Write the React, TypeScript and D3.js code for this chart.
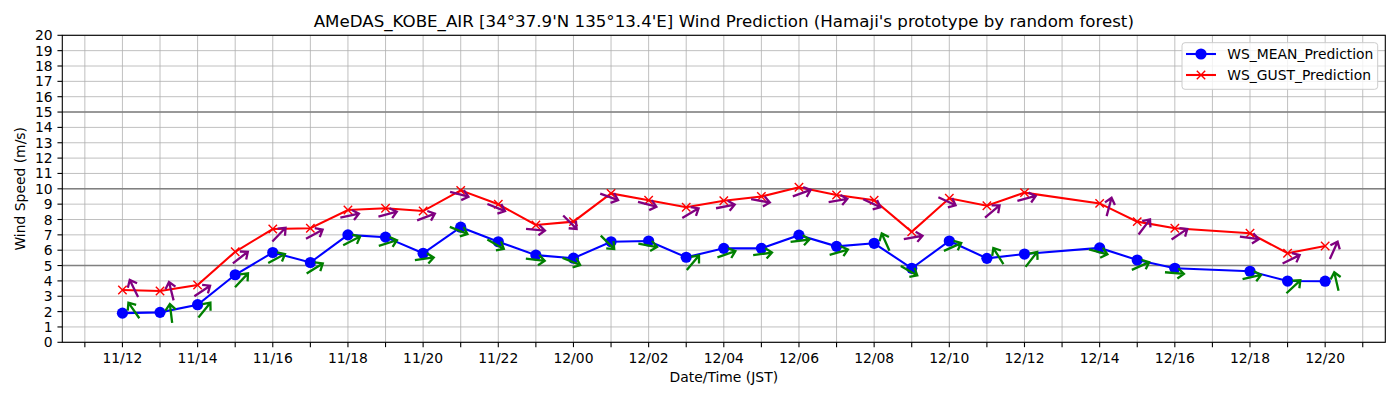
import React from "react";
import * as d3 from "d3";

const times = ["11/12","11/13","11/14","11/15","11/16","11/17","11/18","11/19","11/20","11/21","11/22","11/23","12/00","12/01","12/02","12/03","12/04","12/05","12/06","12/07","12/08","12/09","12/10","12/11","12/12","12/14","12/15","12/16","12/18","12/19","12/20"];
const meanValues = [1.9,1.95,2.45,4.4,5.85,5.2,7.0,6.85,5.8,7.5,6.55,5.68,5.48,6.55,6.6,5.54,6.12,6.12,6.98,6.25,6.45,4.82,6.6,5.47,5.75,6.15,5.36,4.82,4.63,3.99,3.98];
const gustValues = [3.41,3.34,3.73,5.9,7.38,7.43,8.62,8.73,8.55,9.9,8.99,7.64,7.86,9.7,9.25,8.8,9.22,9.5,10.1,9.6,9.25,7.2,9.38,8.9,9.75,9.05,7.86,7.43,7.1,5.8,6.27];
const meanDirs = [125,97,51,47,28,32,27,17,8,-22,-30,-7,-22,-45,-10,50,19,8,7,16,114,-30,24,122,52,-15,24,-5,13,43,103];
const gustDirs = [116,104,34,38,46,29,12,15,21,-15,-22,-5,-45,-20,-15,31,11,-10,20,10,-25,10,-25,40,15,75,53,34,-8,26,66];
const yTicks = d3.range(0, 21);
const titleText = "AMeDAS_KOBE_AIR [34°37.9'N 135°13.4'E] Wind Prediction (Hamaji's prototype by random forest)";
const seriesNames = ["WS_MEAN_Prediction", "WS_GUST_Prediction"];

const W = 1400, H = 400;
const left = 62.3, right = 1385.3, top = 35.3, bottom = 342.3;
const FONT = "DejaVu Sans, sans-serif";

const parse = d3.utcParse("%d/%H");
const fmt = d3.utcFormat("%d/%H");

function Arrow({ x, y, deg, color }: { x: number; y: number; deg: number; color: string }) {
  const L = 19, h = 8, ang = 40 * Math.PI / 180;
  const a = -3.6, yl = 6.8;
  const x0 = a - L / 2, x1 = a + L / 2;
  const d = `M${x0},${yl}L${x1},${yl}M${x1 - h * Math.cos(ang)},${yl - h * Math.sin(ang)}L${x1},${yl}L${x1 - h * Math.cos(ang)},${yl + h * Math.sin(ang)}`;
  return (
    <path d={d} transform={`translate(${x + 3.8},${y - 1.7}) rotate(${-deg})`} fill="none" stroke={color} strokeWidth={2.3} strokeLinecap="butt" strokeLinejoin="miter" />
  );
}

export default function App() {
  const dates = times.map((t) => parse(t) as Date);
  const t0 = dates[0].getTime(), t1 = dates[dates.length - 1].getTime();
  const pad = (t1 - t0) * 0.05;
  const x = d3.scaleUtc().domain([new Date(t0 - pad), new Date(t1 + pad)]).range([left, right]);
  const y = d3.scaleLinear().domain([0, 20]).range([bottom, top]);
  const hourTicks = x.ticks(d3.utcHour.every(1) as any).filter((d) => x(d) >= left && x(d) <= right);

  const line = d3.line<number>().x((_, i) => x(dates[i])).y((v) => y(v));

  return (
    <svg width={W} height={H} style={{ position: "absolute", left: 0, top: 0, background: "#fff" }} fontFamily={FONT}>
      <rect x={0} y={0} width={W} height={H} fill="#fff" />
      <text x={(left + right) / 2} y={27} textAnchor="middle" fontSize={16.67} fill="#000">{titleText}</text>
      <g>
        {yTicks.map((v) => (
          <line key={"gy" + v} x1={left} x2={right} y1={y(v)} y2={y(v)} stroke="#b0b0b0" strokeWidth={0.8} />
        ))}
        {hourTicks.map((d, i) => (
          <line key={"gx" + i} x1={x(d)} x2={x(d)} y1={top} y2={bottom} stroke="#b0b0b0" strokeWidth={0.8} />
        ))}
        {[5, 10, 15].map((v) => (
          <line key={"h" + v} x1={left} x2={right} y1={y(v)} y2={y(v)} stroke="#808080" strokeWidth={1.5} />
        ))}
      </g>
      <path d={line(meanValues) || ""} fill="none" stroke="#0000ff" strokeWidth={2.08} />
      {meanValues.map((v, i) => (
        <circle key={"m" + i} cx={x(dates[i])} cy={y(v)} r={5.6} fill="#0000ff" />
      ))}
      <path d={line(gustValues) || ""} fill="none" stroke="#ff0000" strokeWidth={2.08} />
      {gustValues.map((v, i) => {
        const cx = x(dates[i]), cy = y(v), s = 4.2;
        return <path key={"g" + i} d={`M${cx - s},${cy - s}L${cx + s},${cy + s}M${cx - s},${cy + s}L${cx + s},${cy - s}`} stroke="#ff0000" strokeWidth={1.4} />;
      })}
      {meanValues.map((v, i) => (
        <Arrow key={"am" + i} x={x(dates[i])} y={y(v)} deg={meanDirs[i]} color="#008000" />
      ))}
      {gustValues.map((v, i) => (
        <Arrow key={"ag" + i} x={x(dates[i])} y={y(v)} deg={gustDirs[i]} color="#800080" />
      ))}
      <rect x={left} y={top} width={right - left} height={bottom - top} fill="none" stroke="#000" strokeWidth={1.1} />
      {yTicks.map((v) => (
        <g key={"yt" + v}>
          <line x1={left - 4.86} x2={left} y1={y(v)} y2={y(v)} stroke="#000" strokeWidth={1.1} />
          <text x={left - 9.7} y={y(v)} dy="0.36em" textAnchor="end" fontSize={13.9} fill="#000">{v}</text>
        </g>
      ))}
      {hourTicks.map((d, i) => (
        <g key={"xt" + i}>
          <line x1={x(d)} x2={x(d)} y1={bottom} y2={bottom + 4.86} stroke="#000" strokeWidth={1.1} />
          {d.getUTCHours() % 2 === 0 ? (
            <text x={x(d)} y={bottom + 20.6} textAnchor="middle" fontSize={13.9} fill="#000">{fmt(d)}</text>
          ) : null}
        </g>
      ))}
      <text x={(left + right) / 2} y={382} textAnchor="middle" fontSize={13.9} fill="#000">Date/Time (JST)</text>
      <text transform={`translate(25,${(top + bottom) / 2}) rotate(-90)`} textAnchor="middle" fontSize={13.9} fill="#000">Wind Speed (m/s)</text>
      <g>
        <rect x={1182} y={42.7} width={195.7} height={46.6} rx={3} fill="#fff" fillOpacity={0.8} stroke="#cccccc" strokeWidth={1} />
        <line x1={1186} x2={1216} y1={54} y2={54} stroke="#0000ff" strokeWidth={2.08} />
        <circle cx={1201} cy={54} r={5.6} fill="#0000ff" />
        <text x={1227.3} y={54} dy="0.36em" fontSize={13.9} fill="#000">{seriesNames[0]}</text>
        <line x1={1186} x2={1216} y1={75} y2={75} stroke="#ff0000" strokeWidth={2.08} />
        <path d={`M${1201 - 4.2},${75 - 4.2}L${1201 + 4.2},${75 + 4.2}M${1201 - 4.2},${75 + 4.2}L${1201 + 4.2},${75 - 4.2}`} stroke="#ff0000" strokeWidth={1.4} />
        <text x={1227.3} y={75} dy="0.36em" fontSize={13.9} fill="#000">{seriesNames[1]}</text>
      </g>
    </svg>
  );
}
